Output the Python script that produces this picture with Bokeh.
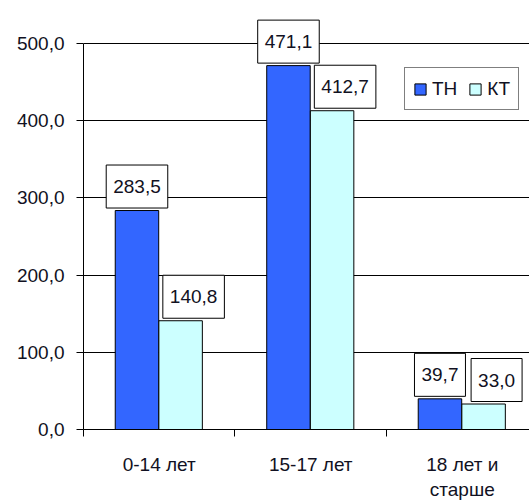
from bokeh.plotting import figure
from bokeh.models import ColumnDataSource, Range1d, FixedTicker, Legend, LegendItem
from bokeh.transform import dodge
from bokeh.core.properties import value
from bokeh.embed import file_html
from bokeh.resources import INLINE

categories = ["0-14 лет", "15-17 лет", "18 лет и\nстарше"]
th_values = [283.5, 471.1, 39.7]
kt_values = [140.8, 412.7, 33.0]
series_names = ["ТН", "КТ"]
y_ticks = [0, 100, 200, 300, 400, 500]
y_tick_labels = ["0,0", "100,0", "200,0", "300,0", "400,0", "500,0"]

FONT = "Liberation Sans"
TXT = "#111122"
BLUE = "#3366FF"
CYAN = "#CCFFFF"


def fmt(v):
    return f"{v:.1f}".replace(".", ",")


n = len(categories)
centers = [i + 0.5 for i in range(n)]
src = ColumnDataSource(dict(
    x=centers,
    th=th_values,
    kt=kt_values,
    th_lbl=[fmt(v) for v in th_values],
    kt_lbl=[fmt(v) for v in kt_values],
))

# frame spans the full top so the top labels are not clipped; axis limited to 0..500
Y_TOP = 500 * 431 / 388
p = figure(width=529, height=502,
           x_range=Range1d(0, 2.944), y_range=Range1d(0, Y_TOP),
           output_backend="svg", toolbar_location=None,
           min_border_left=83, min_border_right=0,
           min_border_top=0, min_border_bottom=71)
p.outline_line_color = None
p.background_fill_color = "white"
p.border_fill_color = "white"

BW = 0.287
r_th = p.vbar(x=dodge("x", -0.147), top="th", width=BW, source=src,
              fill_color=BLUE, line_color="black", line_width=1)
r_kt = p.vbar(x=dodge("x", 0.141), top="kt", width=BW, source=src,
              fill_color=CYAN, line_color="black", line_width=1)

label_style = dict(text_font=value(FONT), text_font_size="19px", text_color=TXT,
                   text_align="center", text_baseline="middle",
                   background_fill_color="white", border_line_color="black",
                   border_line_width=1, padding=(7, 15))
p.text(x=dodge("x", -0.147), y="th", text="th_lbl", source=src,
       y_offset=-24, **label_style)
p.text(x=dodge("x", 0.141), y="kt", text="kt_lbl", source=src,
       x_offset=13, y_offset=-24, **label_style)

# axes
xa = p.xaxis[0]
xa.ticker = FixedTicker(ticks=centers, minor_ticks=list(range(n + 1)))
xa.major_label_overrides = {c: lab for c, lab in zip(centers, categories)}
xa.major_tick_out = 0
xa.major_tick_in = 0
xa.minor_tick_out = 7
xa.minor_tick_in = 0
xa.minor_tick_line_color = "black"
xa.axis_line_color = "black"
xa.major_label_standoff = 17
xa.major_label_text_font = FONT
xa.major_label_text_font_size = "19px"
xa.major_label_text_color = TXT

ya = p.yaxis[0]
ya.ticker = FixedTicker(ticks=y_ticks)
ya.bounds = (y_ticks[0], y_ticks[-1])
ya.major_label_overrides = {t: lab for t, lab in zip(y_ticks, y_tick_labels)}
ya.major_tick_out = 7
ya.major_tick_in = 0
ya.minor_tick_line_color = None
ya.axis_line_color = "black"
ya.major_tick_line_color = "black"
ya.major_label_standoff = 12
ya.major_label_text_font = FONT
ya.major_label_text_font_size = "19px"
ya.major_label_text_color = TXT

p.xgrid.visible = False
p.ygrid.grid_line_color = "black"
p.ygrid.grid_line_width = 1

legend = Legend(items=[LegendItem(label=series_names[0], renderers=[r_th]),
                       LegendItem(label=series_names[1], renderers=[r_kt])],
                location=(321, 319), orientation="horizontal",
                label_text_font=FONT, label_text_font_size="19px",
                label_text_color=TXT,
                glyph_width=14, glyph_height=14, label_standoff=5,
                spacing=11, padding=8, margin=0, label_height=25,
                border_line_color="black", border_line_width=1,
                background_fill_color="white", background_fill_alpha=1)
p.add_layout(legend)

open("out.html", "w").write(file_html(p, INLINE))
